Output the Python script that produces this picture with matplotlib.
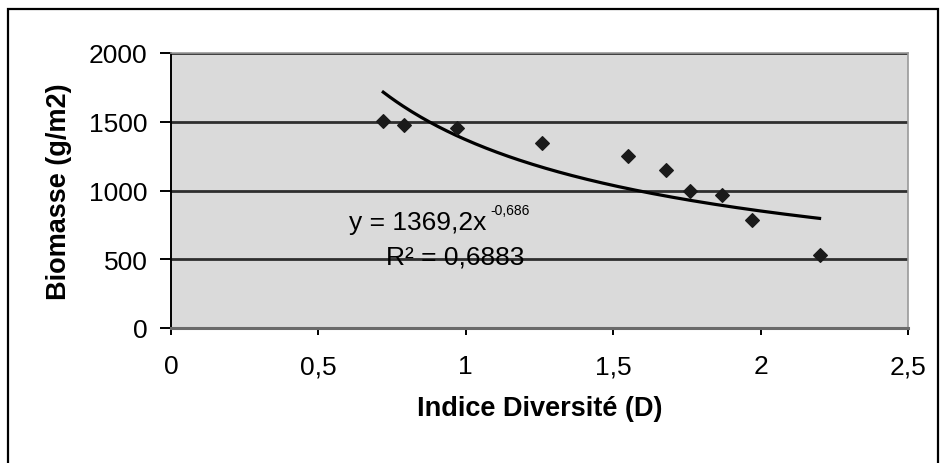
"""Biomasse vs Indice Diversité scatter with power trendline."""

import matplotlib
matplotlib.use("Agg")
import matplotlib.pyplot as plt
from matplotlib.patches import Rectangle
from matplotlib.ticker import FuncFormatter
import numpy as np

plt.rcParams["font.family"] = ["Liberation Sans", "DejaVu Sans"]

# Data
diversite = [0.72, 0.79, 0.97, 1.26, 1.55, 1.68, 1.76, 1.87, 1.97, 2.20]
biomasse = [1505, 1476, 1458, 1343, 1253, 1151, 998, 967, 788, 531]

# Power trendline coefficients (Excel label)
coef_a = 1369.2
coef_b = -0.686
eq_label = "y = 1369,2x"
exp_label = "-0,686"
r2_label = "R² = 0,6883"

x_ticks = [0, 0.5, 1, 1.5, 2, 2.5]
y_ticks = [0, 500, 1000, 1500, 2000]


def comma(v, _pos):
    return f"{v:g}".replace(".", ",")


fig = plt.figure(figsize=(9.43, 4.64), dpi=100)
fig.patch.set_facecolor("white")

# outer chart frame
fig.patches.append(Rectangle((8 / 943, -0.05), 930 / 943, 1.05 - 10 / 464,
                             transform=fig.transFigure, fill=False,
                             edgecolor="black", linewidth=1.6))

ax = fig.add_axes([171 / 943, 1 - 329 / 464, 737 / 943, 275 / 464])
ax.set_facecolor("#dadada")

for yv in y_ticks[1:]:
    ax.axhline(yv, color="#2e2e2e", linewidth=2.0, zorder=1)

xs = np.linspace(min(diversite), max(diversite), 200)
ax.plot(xs, coef_a * xs ** coef_b, color="black", linewidth=2.3, zorder=3)
ax.scatter(diversite, biomasse, marker="D", s=48, color="#1a1a1a", zorder=4)

ax.set_xlim(0, 2.5)
ax.set_ylim(0, 2000)
ax.set_xticks(x_ticks)
ax.set_yticks(y_ticks)
ax.xaxis.set_major_formatter(FuncFormatter(comma))

for side in ["top", "right"]:
    ax.spines[side].set_color("#9a9a9a")
    ax.spines[side].set_linewidth(1.2)
ax.spines["left"].set_color("black")
ax.spines["left"].set_linewidth(1.4)
ax.spines["bottom"].set_color("#6a6a6a")
ax.spines["bottom"].set_linewidth(2.2)

ax.tick_params(axis="y", direction="out", length=8, width=1.4,
               labelsize=19, pad=9, color="black")
ax.tick_params(axis="x", direction="out", length=5, width=1.4,
               labelsize=19, pad=14, color="black")

ax.set_xlabel("Indice Diversité (D)", fontsize=19.5, fontweight="bold",
              labelpad=12)
ax.set_ylabel("Biomasse (g/m2)", fontsize=19.5, fontweight="bold",
              labelpad=12)

ax.text(0.603, 771, eq_label, fontsize=19, ha="left", va="center", zorder=5)
ax.text(1.085, 860, exp_label, fontsize=10, ha="left", va="center", zorder=5)
ax.text(0.728, 520, r2_label, fontsize=19, ha="left", va="center", zorder=5)

plt.savefig("out.png", dpi=100)
plt.close()
